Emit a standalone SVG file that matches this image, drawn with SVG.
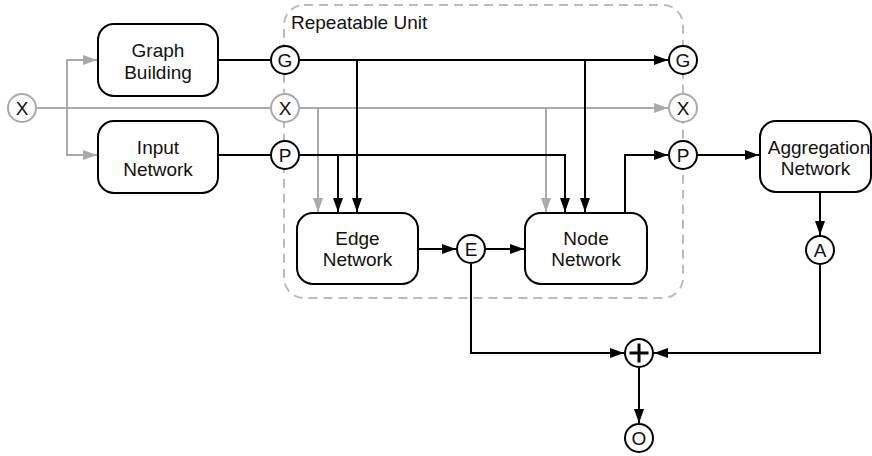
<svg xmlns="http://www.w3.org/2000/svg" width="872" height="456" viewBox="0 0 872 456">
  <defs>
    <marker id="arrow" markerUnits="userSpaceOnUse" markerWidth="15" markerHeight="11" refX="14" refY="5" orient="auto">
      <path d="M0,0 L14,5 L0,10 z" fill="#000"/>
    </marker>
    <marker id="arrowGray" markerUnits="userSpaceOnUse" markerWidth="15" markerHeight="11" refX="14" refY="5" orient="auto">
      <path d="M0,0 L14,5 L0,10 z" fill="#aaa"/>
    </marker>
    <style>
      .box { fill: #fff; stroke: #000; stroke-width: 2; }
      .port { fill: #fff; stroke: #000; stroke-width: 2; }
      .port.gray { stroke: #aaa; }
      .lbl { font-family: "Liberation Sans", Arial, sans-serif; font-size: 19px; fill: #111; text-anchor: middle; }
      .plbl { font-family: "Liberation Sans", Arial, sans-serif; font-size: 19px; fill: #111; text-anchor: middle; }
      .wire { fill: none; stroke: #000; stroke-width: 2; }
      .wire.arr { marker-end: url(#arrow); }
      .gwire { fill: none; stroke: #aaa; stroke-width: 2; }
      .gwire.arr { marker-end: url(#arrowGray); }
      .unit { fill: none; stroke: #bbb; stroke-width: 2; stroke-dasharray: 9 6; }
    </style>
  </defs>

  <!-- repeatable unit frame -->
  <g id="repeatable-unit">
    <rect class="unit" x="284" y="5" width="399" height="293" rx="20"/>
    <text x="291" y="29" font-family="Liberation Sans, Arial, sans-serif" font-size="19" fill="#111">Repeatable Unit</text>
  </g>

  <!-- connectors -->
  <g id="connectors">
    <!-- gray X feature lines -->
    <line class="gwire" x1="36" y1="108" x2="270" y2="108"/>
    <path class="gwire arr" d="M67,108 V60 H97"/>
    <path class="gwire arr" d="M67,108 V155 H97"/>
    <path class="gwire arr" d="M300,108 H668"/>
    <path class="gwire arr" d="M318,108 V212"/>
    <path class="gwire arr" d="M546,108 V212"/>

    <!-- graph lines -->
    <path class="wire" d="M218,60 H270"/>
    <path class="wire arr" d="M300,60 H668"/>
    <path class="wire arr" d="M357,60 V212"/>
    <path class="wire arr" d="M585,60 V212"/>

    <!-- node feature lines -->
    <path class="wire" d="M218,155 H270"/>
    <path class="wire arr" d="M300,155 H565 V212"/>
    <path class="wire arr" d="M338,155 V212"/>
    <path class="wire arr" d="M625,213 V155 H668"/>
    <path class="wire arr" d="M698,155 H759"/>

    <!-- edge path -->
    <path class="wire arr" d="M418,249 H456"/>
    <path class="wire arr" d="M486,249 H524"/>

    <!-- aggregation and sum -->
    <path class="wire arr" d="M820,192 V235"/>
    <path class="wire arr" d="M471,264 V353 H624"/>
    <path class="wire arr" d="M820,265 V353 H654"/>
    <path class="wire arr" d="M639,368 V423"/>
  </g>

  <!-- boxes -->
  <g id="graph-building">
    <rect class="box" x="98" y="24" width="120" height="72" rx="16"/>
    <text class="lbl" x="158" y="57">Graph</text>
    <text class="lbl" x="158" y="78.5">Building</text>
  </g>
  <g id="input-network">
    <rect class="box" x="98" y="121" width="120" height="72" rx="16"/>
    <text class="lbl" x="158" y="154">Input</text>
    <text class="lbl" x="158" y="175.5">Network</text>
  </g>
  <g id="edge-network">
    <rect class="box" x="297" y="213" width="121" height="71" rx="16"/>
    <text class="lbl" x="357.5" y="245">Edge</text>
    <text class="lbl" x="357.5" y="266">Network</text>
  </g>
  <g id="node-network">
    <rect class="box" x="525" y="213" width="122" height="71" rx="16"/>
    <text class="lbl" x="586" y="245">Node</text>
    <text class="lbl" x="586" y="266">Network</text>
  </g>
  <g id="aggregation-network">
    <rect class="box" x="760" y="121" width="111" height="71" rx="16"/>
    <text class="lbl" x="819" y="154">Aggregation</text>
    <text class="lbl" x="815.5" y="175">Network</text>
  </g>

  <!-- ports -->
  <g id="x-in">
    <circle class="port gray" cx="22" cy="108" r="14"/>
    <text class="plbl" x="22" y="115">X</text>
  </g>
  <g id="g-in">
    <circle class="port" cx="285" cy="60" r="14"/>
    <text class="plbl" x="285" y="67">G</text>
  </g>
  <g id="x-unit-in">
    <circle class="port gray" cx="285" cy="108" r="14"/>
    <text class="plbl" x="285" y="115">X</text>
  </g>
  <g id="p-in">
    <circle class="port" cx="285" cy="155" r="14"/>
    <text class="plbl" x="285" y="162">P</text>
  </g>
  <g id="g-out">
    <circle class="port" cx="683" cy="60" r="14"/>
    <text class="plbl" x="683" y="67">G</text>
  </g>
  <g id="x-out">
    <circle class="port gray" cx="683" cy="108" r="14"/>
    <text class="plbl" x="683" y="115">X</text>
  </g>
  <g id="p-out">
    <circle class="port" cx="683" cy="155" r="14"/>
    <text class="plbl" x="683" y="162">P</text>
  </g>
  <g id="e-port">
    <circle class="port" cx="471" cy="249" r="14"/>
    <text class="plbl" x="471" y="256">E</text>
  </g>
  <g id="a-port">
    <circle class="port" cx="820" cy="250" r="14"/>
    <text class="plbl" x="820" y="257">A</text>
  </g>
  <g id="sum">
    <circle class="port" cx="639" cy="353" r="14"/>
    <path d="M639,343.5 V362.5 M629.5,353 H648.5" stroke="#000" stroke-width="3" fill="none"/>
  </g>
  <g id="o-port">
    <circle class="port" cx="639" cy="438" r="14"/>
    <text class="plbl" x="639" y="445">O</text>
  </g>
</svg>
